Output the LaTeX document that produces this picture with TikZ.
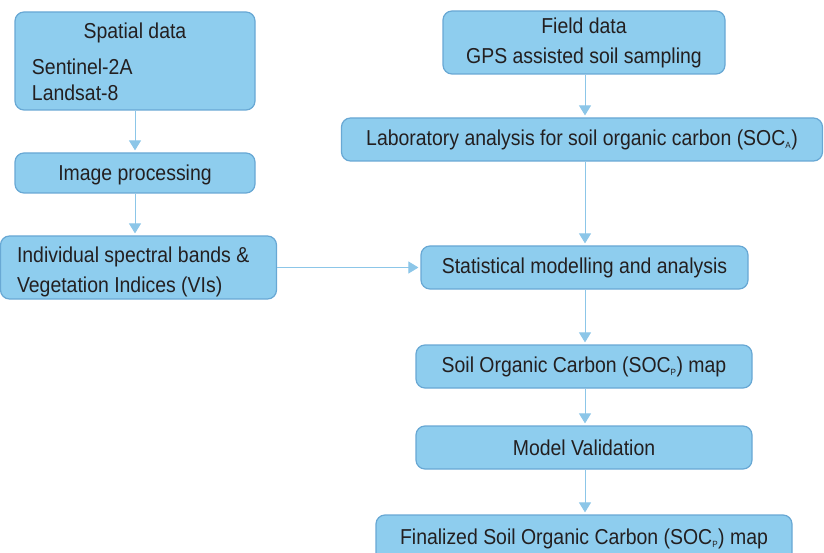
\documentclass[tikz,border=0pt]{standalone}
\usepackage{fontspec}
\setmainfont{Liberation Sans}[FakeStretch=0.9]
\usetikzlibrary{arrows.meta}

\definecolor{boxfill}{RGB}{142,205,238}
\definecolor{boxline}{RGB}{104,168,212}
\definecolor{linkcol}{RGB}{140,198,232}
\definecolor{inkcol}{RGB}{35,31,32}

\tikzset{
  flowbox/.style={draw=boxline, line width=1.2pt, fill=boxfill, rounded corners=9pt,
    text=inkcol, font=\fontsize{21.6}{26}\selectfont, inner sep=0pt, align=center},
  leftbox/.style={flowbox, align=left},
  link/.style={draw=linkcol, line width=1pt,
    -{Triangle[width=12pt,length=10pt]}, shorten >=2pt}
}
\newcommand{\subidx}[1]{\textsubscript{\fontsize{9}{9}\selectfont #1}}

\begin{document}
\begin{tikzpicture}[x=1pt, y=-1pt]
  \useasboundingbox (0,0) rectangle (824,553);
  \clip (0,0) rectangle (824,553);

  % left column: remote sensing data
  \node[leftbox, minimum width=240pt, minimum height=98pt, text width=206pt]
    (spatial) at (135,61)
    {\spaceskip=0pt\relax
     \makebox[206pt]{\rule{0pt}{18pt}Spatial data}\\[10pt]Sentinel-2A\\[0pt]Landsat-8};
  \node[flowbox, minimum width=240pt, minimum height=40pt] (imgproc) at (135,173)
    {\rule{0pt}{20pt}Image processing};
  \node[leftbox, minimum width=276pt, minimum height=63pt, text width=243pt]
    (bands) at (138.5,267.5)
    {\spaceskip=0pt\relax
     \rule{0pt}{25pt}Individual spectral bands \&\\[4pt]Vegetation Indices (VIs)};

  % right column: field data and modelling chain
  \node[flowbox, minimum width=282pt, minimum height=63pt] (field) at (584,42.5)
    {Field data\\[4pt]GPS assisted soil sampling};
  \node[flowbox, minimum width=481pt, minimum height=43pt] (lab) at (582,139.5)
    {Laboratory analysis for soil organic carbon (SOC\subidx{A})};
  \node[flowbox, minimum width=327pt, minimum height=43pt] (stat) at (584.5,267.5)
    {Statistical modelling and analysis};
  \node[flowbox, minimum width=336pt, minimum height=43pt] (socmap) at (584,366.5)
    {Soil Organic Carbon (SOC\subidx{P}) map};
  \node[flowbox, minimum width=336pt, minimum height=43pt] (valid) at (584,447.5)
    {Model Validation};
  \node[flowbox, minimum width=416pt, minimum height=48pt] (final) at (584,539)
    {\raisebox{5pt}{Finalized Soil Organic Carbon (SOC\subidx{P}) map}};

  % connectors
  \draw[link] (spatial.south) -- (imgproc.north);
  \draw[link] (imgproc.south) -- (bands.north -| imgproc.south);
  \draw[link] (bands.east) -- (stat.west);
  \draw[link] (field.south -| 585,0) -- (lab.north -| 585,0);
  \draw[link] (lab.south -| 585,0) -- (stat.north -| 585,0);
  \draw[link] (stat.south -| 585,0) -- (socmap.north -| 585,0);
  \draw[link] (socmap.south -| 585,0) -- (valid.north -| 585,0);
  \draw[link] (valid.south -| 585,0) -- (final.north -| 585,0);
\end{tikzpicture}
\end{document}
